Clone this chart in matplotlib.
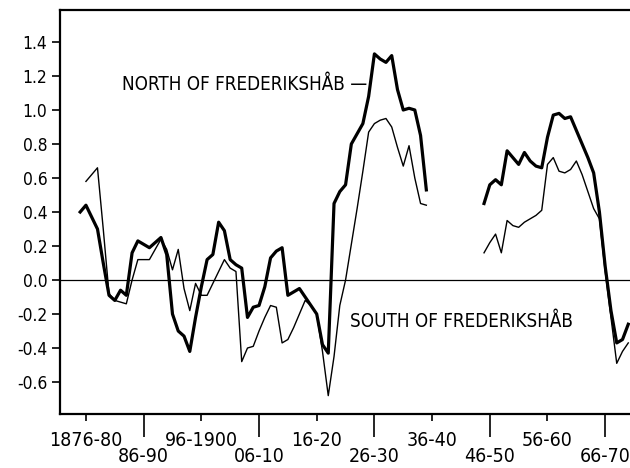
import matplotlib
matplotlib.use("Agg")
import matplotlib.pyplot as plt

plt.rcParams['font.family'] = ['DejaVu Sans']
plt.rcParams['font.stretch'] = 'condensed'
plt.rcParams['axes.unicode_minus'] = False

# north of Frederikshab (thick line), two pieces with a gap in the 1940s
north_years_a = list(range(1877, 1938))
north_vals_a = [0.40, 0.44, 0.37, 0.30, 0.10, -0.09, -0.12, -0.06, -0.09, 0.16,
                0.23, 0.21, 0.19, 0.22, 0.25, 0.15, -0.20, -0.30, -0.33, -0.42,
                -0.22, -0.04, 0.12, 0.15, 0.34, 0.29, 0.12, 0.09, 0.07, -0.22,
                -0.16, -0.15, -0.04, 0.13, 0.17, 0.19, -0.09, -0.07, -0.05, -0.10,
                -0.15, -0.20, -0.38, -0.43, 0.45, 0.52, 0.56, 0.80, 0.86, 0.92,
                1.08, 1.33, 1.30, 1.28, 1.32, 1.12, 1.00, 1.01, 1.00, 0.85,
                0.53]
north_years_b = list(range(1947, 1973))
north_vals_b = [0.45, 0.56, 0.59, 0.56, 0.76, 0.72, 0.68, 0.75, 0.70, 0.67,
                0.66, 0.84, 0.97, 0.98, 0.95, 0.96, 0.88, 0.80, 0.72, 0.63,
                0.40, 0.08, -0.18, -0.37, -0.35, -0.26]

# south of Frederikshab (thin line)
south_years_a = list(range(1878, 1938))
south_vals_a = [0.58, 0.62, 0.66, 0.30, -0.08, -0.12, -0.13, -0.14, 0.00, 0.12,
                0.12, 0.12, 0.18, 0.24, 0.18, 0.06, 0.18, -0.05, -0.18, -0.02,
                -0.09, -0.09, -0.02, 0.05, 0.12, 0.07, 0.05, -0.48, -0.40, -0.39,
                -0.30, -0.22, -0.15, -0.16, -0.37, -0.35, -0.28, -0.20, -0.12, -0.15,
                -0.20, -0.42, -0.68, -0.45, -0.15, 0.00, 0.21, 0.42, 0.64, 0.87,
                0.92, 0.94, 0.95, 0.90, 0.78, 0.67, 0.79, 0.60, 0.45, 0.44]
south_years_b = list(range(1947, 1973))
south_vals_b = [0.16, 0.22, 0.27, 0.16, 0.35, 0.32, 0.31, 0.34, 0.36, 0.38,
                0.41, 0.68, 0.72, 0.64, 0.63, 0.65, 0.70, 0.62, 0.52, 0.42,
                0.36, 0.05, -0.22, -0.49, -0.42, -0.37]

low_ticks = [1888, 1908, 1928, 1948, 1968]
low_labels = ["86-90", "06-10", "26-30", "46-50", "66-70"]
high_ticks = [1878, 1898, 1918, 1938, 1958]
high_labels = ["1876-80", "96-1900", "16-20", "36-40", "56-60"]
y_ticks = [-0.6, -0.4, -0.2, 0.0, 0.2, 0.4, 0.6, 0.8, 1.0, 1.2, 1.4]
y_labels = ["-0.6", "-0.4", "-0.2", "0.0", "0.2", "0.4", "0.6", "0.8", "1.0", "1.2", "1.4"]

fig = plt.figure(figsize=(6.3, 4.68), dpi=100)
ax = fig.add_axes([0.0952, 0.1154, 0.9048, 0.8632])

ax.plot(north_years_a, north_vals_a, color="black", lw=2.3, solid_joinstyle="round")
ax.plot(north_years_b, north_vals_b, color="black", lw=2.3, solid_joinstyle="round")
ax.plot(south_years_a, south_vals_a, color="black", lw=1.0)
ax.plot(south_years_b, south_vals_b, color="black", lw=1.0)
ax.axhline(0, color="black", lw=0.9)

ax.set_xlim(1873.5, 1972.3)
ax.set_ylim(-0.788, 1.588)

ax.spines['right'].set_visible(False)
for s in ['left', 'bottom', 'top']:
    ax.spines[s].set_linewidth(1.6)

ax.set_yticks(y_ticks, y_labels)
ax.set_xticks(low_ticks, low_labels)
ax.set_xticks(high_ticks, high_labels, minor=True)
ax.tick_params(axis='y', direction='out', length=5.5, width=1.2, pad=3.5, labelsize=12.5)
ax.tick_params(axis='x', which='major', direction='out', length=16.5, width=1.2, pad=7, labelsize=14)
ax.tick_params(axis='x', which='minor', direction='out', length=5, width=1.2, pad=7, labelsize=14)

ax.text(1884.2, 1.15, "NORTH OF FREDERIKSHÅB —", fontsize=13.5, ha='left', va='center')
ax.text(1923.8, -0.245, "SOUTH OF FREDERIKSHÅB", fontsize=13.5, ha='left', va='center')

fig.savefig("out.png", dpi=100)
